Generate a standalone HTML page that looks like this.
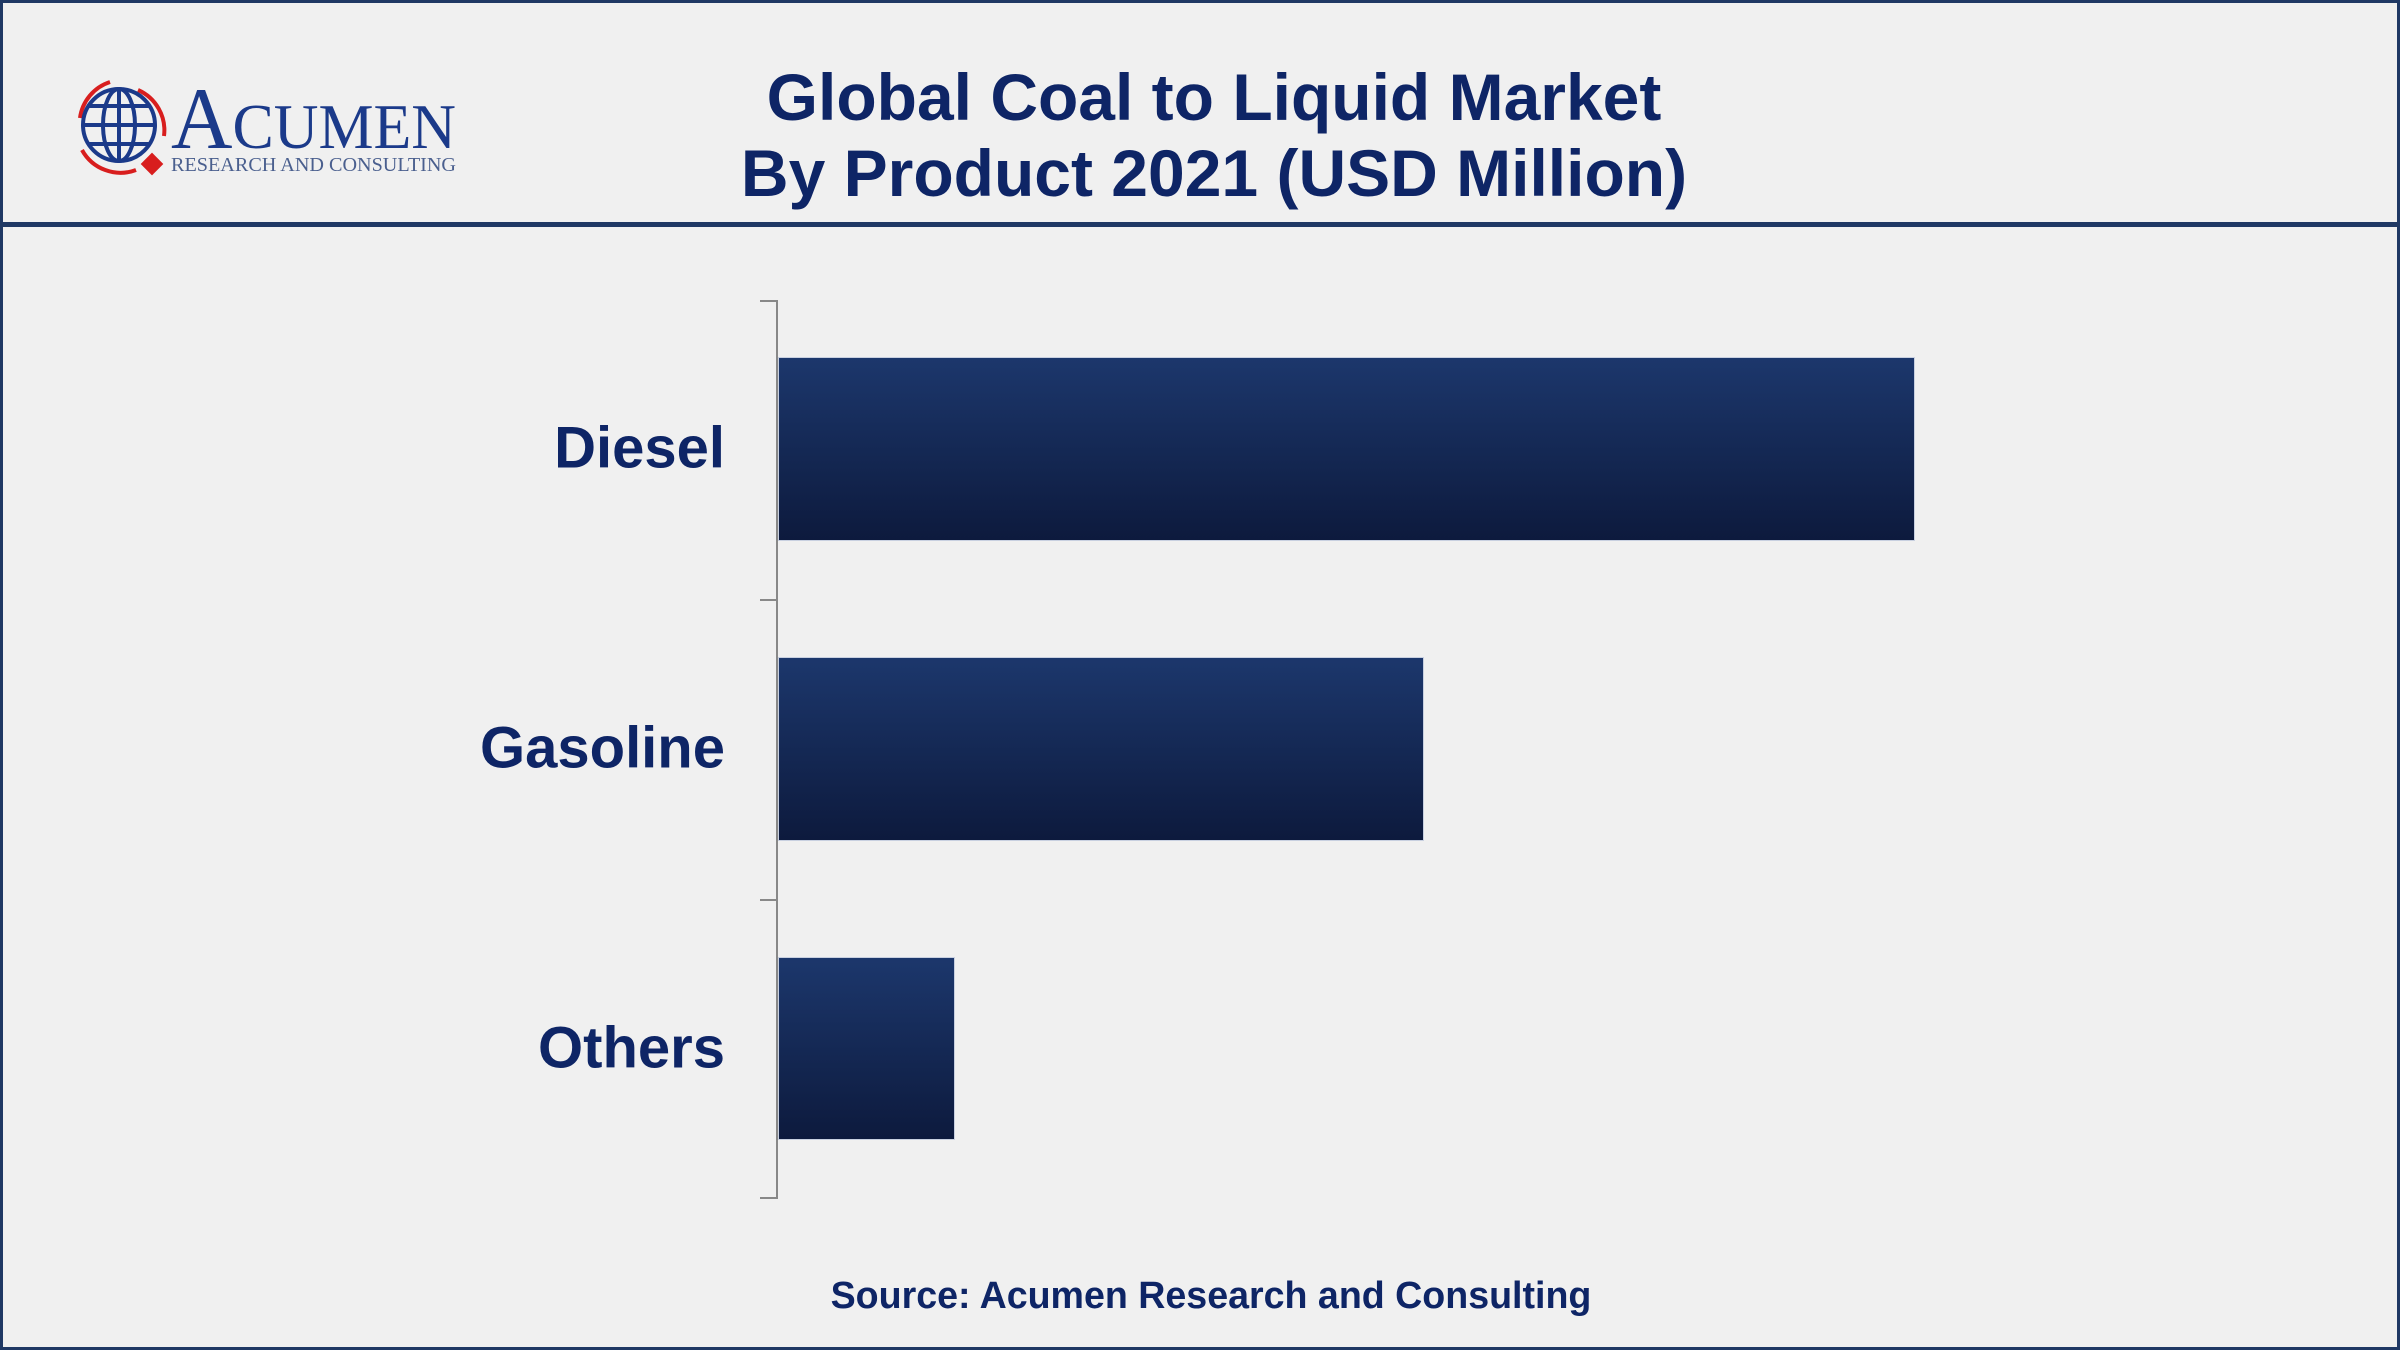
<!DOCTYPE html>
<html><head><meta charset="utf-8"><style>
body{margin:0;width:2400px;height:1350px;background:#f0f0f0;position:relative;overflow:hidden;font-family:"Liberation Sans",sans-serif}
.frame{position:absolute;left:0;top:0;width:2394px;height:1344px;border:3px solid #1f3864}
.hl{position:absolute;left:0;top:222px;width:2400px;height:5px;background:#1f3864}
.title{position:absolute;left:514px;width:1400px;top:59px;text-align:center;color:#0e2566;font-weight:bold;font-size:66px;line-height:76px}
.lab{position:absolute;right:1675px;color:#0e2566;font-weight:bold;font-size:58px;transform:translateY(-50%)}
.bar{position:absolute;left:778px;background:linear-gradient(#1c376c,#0d1a3d);border:1px solid #c8d0e0;box-sizing:border-box}
.src{position:absolute;left:0;width:2422px;text-align:center;top:1274px;color:#0e2566;font-weight:bold;font-size:37.6px}
</style></head><body>
<div class="frame"></div><div class="hl"></div>
<svg style="position:absolute;left:0;top:0" width="600" height="220">
<g fill="none" stroke="#d81e1e" stroke-width="4"><path d="M80 118 A44 44 0 0 1 110 82"/><path d="M138 90 A44 44 0 0 1 164 136"/><path d="M82 150 A44 44 0 0 0 136 170"/></g>
<g fill="none" stroke="#1b3a8a" stroke-width="4"><circle cx="119" cy="125" r="36"/><ellipse cx="119" cy="125" rx="16" ry="36"/><line x1="119" y1="89" x2="119" y2="161"/><line x1="83" y1="125" x2="155" y2="125"/><path d="M88 106 H150 M88 144 H150"/></g>
<rect x="144" y="156" width="16" height="16" fill="#d81e1e" transform="rotate(45 152 164)"/>
<text x="171" y="148" font-family="Liberation Serif,serif" font-size="88" fill="#1b3a8a" textLength="285" lengthAdjust="spacingAndGlyphs">A<tspan font-size="64">CUMEN</tspan></text>
<text x="171" y="171" font-family="Liberation Serif,serif" font-size="20" fill="#4a5f8e" textLength="285" lengthAdjust="spacingAndGlyphs">RESEARCH AND CONSULTING</text>
</svg>
<div class="title">Global Coal to Liquid Market<br>By Product 2021 (USD Million)</div>
<svg style="position:absolute;left:0;top:0" width="800" height="1350"><g stroke="#888" stroke-width="2"><line x1="777" y1="300" x2="777" y2="1199"/><line x1="760" y1="301" x2="777" y2="301"/><line x1="760" y1="600" x2="777" y2="600"/><line x1="760" y1="900" x2="777" y2="900"/><line x1="760" y1="1198" x2="777" y2="1198"/></g></svg>
<div class="bar" style="top:357px;height:184px;width:1137px"></div>
<div class="bar" style="top:657px;height:184px;width:646px"></div>
<div class="bar" style="top:957px;height:183px;width:177px"></div>
<div class="lab" style="top:448px">Diesel</div>
<div class="lab" style="top:748px">Gasoline</div>
<div class="lab" style="top:1048px">Others</div>
<div class="src">Source: Acumen Research and Consulting</div>
</body></html>
